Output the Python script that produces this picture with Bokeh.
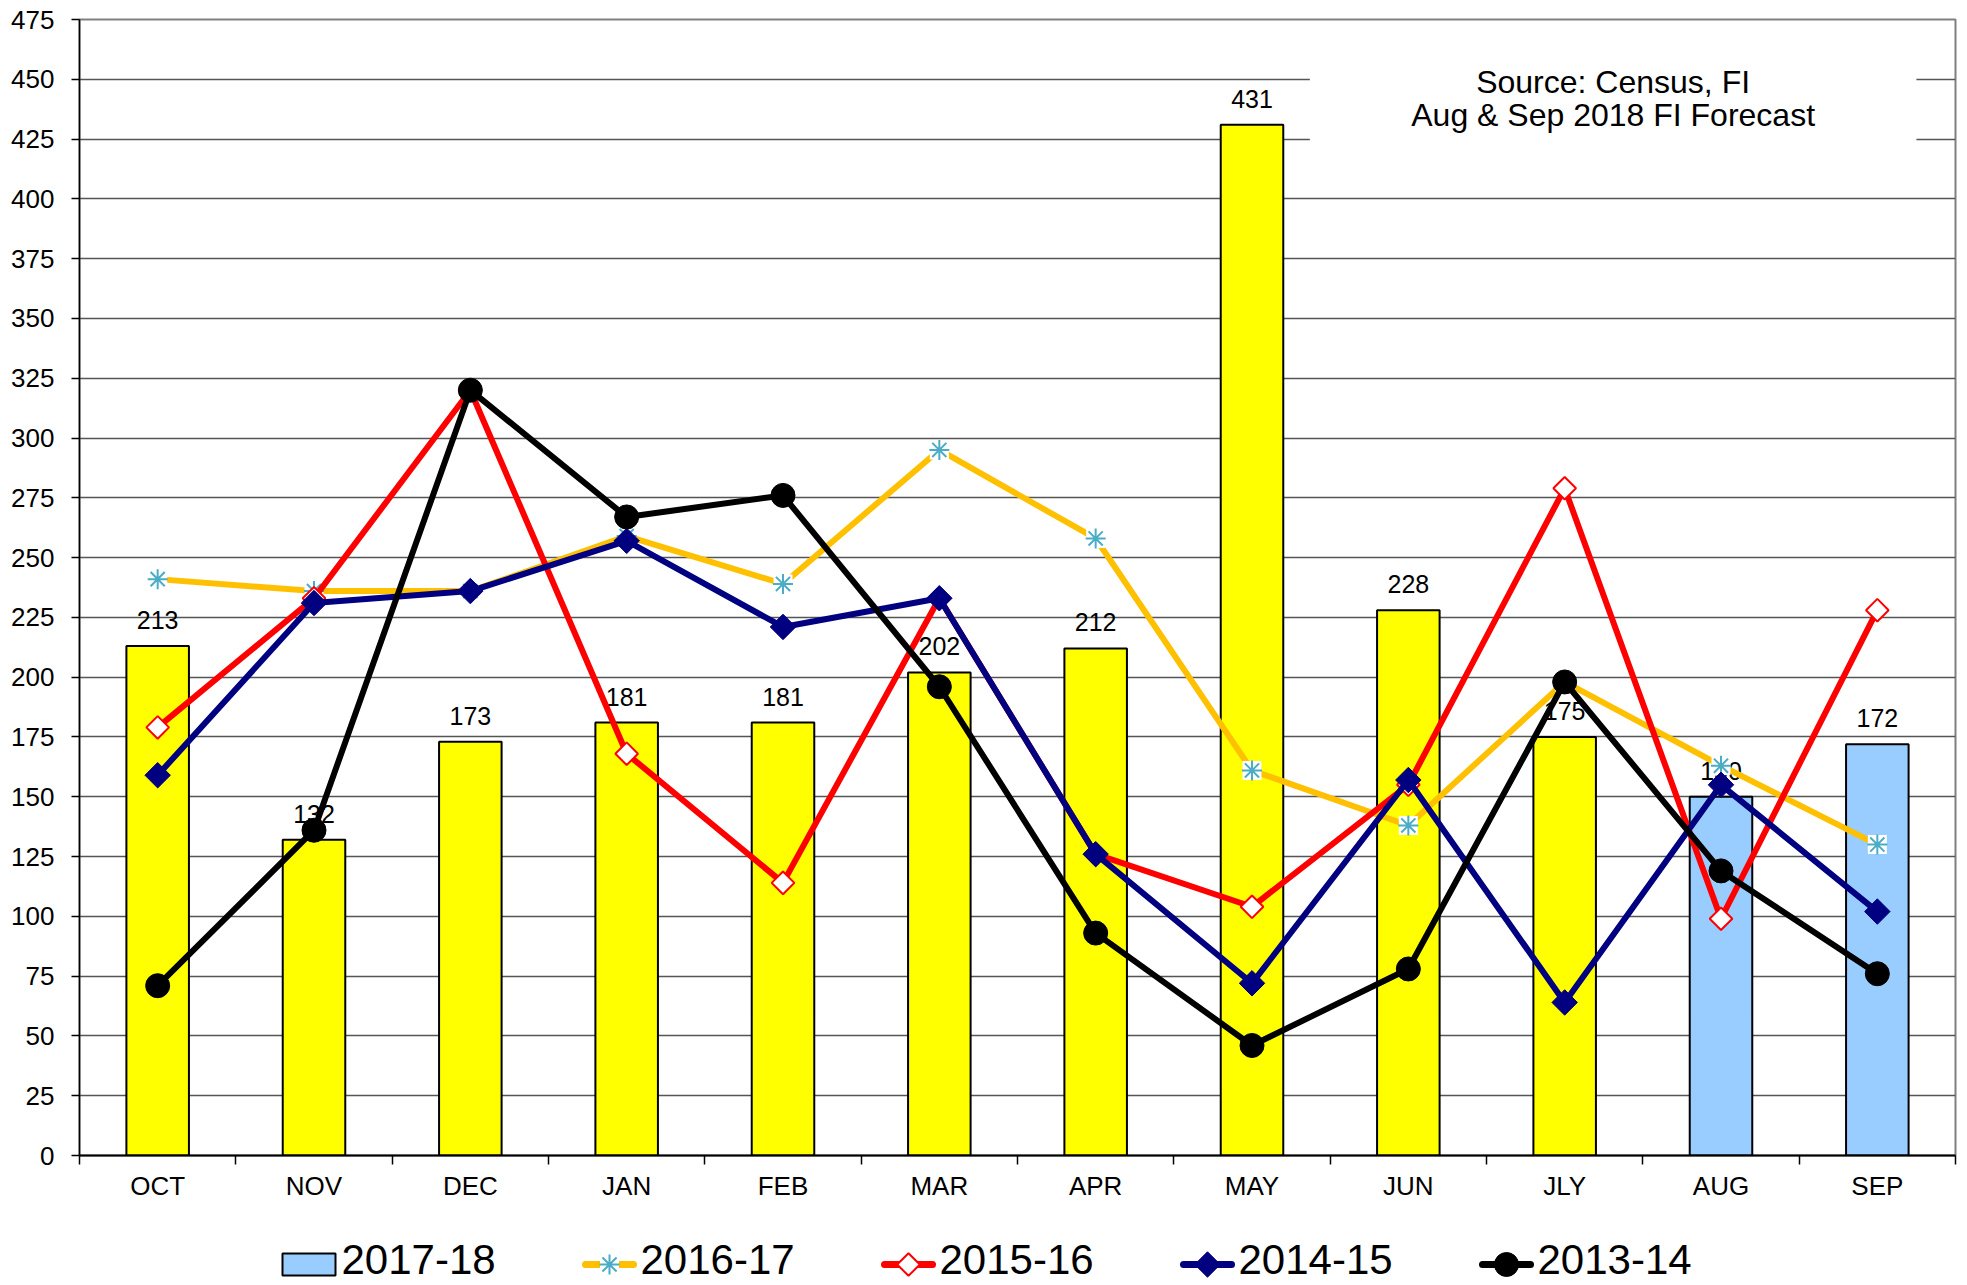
import numpy as np
from bokeh.plotting import figure
from bokeh.layouts import column
from bokeh.models import (FixedTicker, Range1d, BoxAnnotation, Label)
from bokeh.embed import file_html
from bokeh.resources import INLINE
from bokeh.core.properties import value

# ---------------- data ----------------
months = ["OCT", "NOV", "DEC", "JAN", "FEB", "MAR", "APR", "MAY", "JUN", "JLY", "AUG", "SEP"]
bars_2017_18 = [213, 132, 173, 181, 181, 202, 212, 431, 228, 175, 150, 172]
is_forecast = [False, False, False, False, False, False, False, False, False, False, True, True]
s2016_17 = [241, 236, 236, 259, 239, 295, 258, 161, 138, 198, 163, 130]
s2015_16 = [179, 233, 320, 168, 114, 233, 126, 104, 155, 279, 99, 228]
s2014_15 = [159, 231, 236, 257, 221, 233, 126, 72, 157, 64, 155, 102]
s2013_14 = [71, 136, 320, 267, 276, 196, 93, 46, 78, 198, 119, 76]
series_names = ["2017-18", "2016-17", "2015-16", "2014-15", "2013-14"]
y_ticks = list(range(0, 476, 25))
source_lines = ["Source: Census, FI", "Aug & Sep 2018 FI Forecast"]

FONT = "Liberation Sans"
n = len(months)
x = np.arange(n) + 0.5
bar_colors = ["#99CCFF" if f else "#FFFF00" for f in is_forecast]

# ---------------- styles ----------------
BAR = dict(line_color="black", line_width=2)
LINES = {
    "2016-17": dict(line_color="#FFC000", line_width=6, line_join="round"),
    "2015-16": dict(line_color="#FF0000", line_width=6, line_join="round"),
    "2014-15": dict(line_color="#000080", line_width=6, line_join="round"),
    "2013-14": dict(line_color="black", line_width=6, line_join="round"),
}
MARKERS = {
    "2016-17": [dict(marker="square", size=19, fill_color="white", line_color=None),
                dict(marker="asterisk", size=20, line_color="#4BACC6", line_width=2)],
    "2015-16": [dict(marker="square", angle=np.pi / 4, size=16, fill_color="white",
                     line_color="#FF0000", line_width=2)],
    "2014-15": [dict(marker="square", angle=np.pi / 4, size=18, fill_color="#000080",
                     line_color="#000080", line_width=1)],
    "2013-14": [dict(marker="circle", size=24, fill_color="black", line_color="black")],
}
line_data = {"2016-17": s2016_17, "2015-16": s2015_16, "2014-15": s2014_15, "2013-14": s2013_14}

LEFT, RIGHT, W = 79, 11, 1966
MAIN_H, STRIP_H = 1205, 79

# ---------------- main chart ----------------
p = figure(width=W, height=MAIN_H, output_backend="svg", toolbar_location=None,
           x_range=Range1d(0, n), y_range=Range1d(0, 475), title=None,
           min_border_left=LEFT, min_border_top=19, min_border_right=RIGHT, min_border_bottom=50)
p.background_fill_color = "white"
p.border_fill_color = "white"
p.outline_line_color = "#808080"
p.outline_line_width = 2

p.xaxis.ticker = FixedTicker(ticks=list(x), minor_ticks=list(range(0, n + 1)))
p.xaxis.major_label_overrides = {float(xi): m for xi, m in zip(x, months)}
p.xaxis.major_tick_out = 0
p.xaxis.major_tick_in = 0
p.xaxis.minor_tick_out = 9
p.xaxis.minor_tick_in = 0
p.xaxis.minor_tick_line_color = "black"
p.xaxis.minor_tick_line_width = 1.5
p.xaxis.axis_line_color = "black"
p.xaxis.axis_line_width = 2
p.xaxis.major_label_standoff = 6
p.xaxis.major_label_text_font = FONT
p.xaxis.major_label_text_font_size = "26px"
p.xaxis.major_label_text_color = "black"

p.yaxis.ticker = FixedTicker(ticks=y_ticks, minor_ticks=[])
p.yaxis.major_tick_out = 8
p.yaxis.major_tick_in = 0
p.yaxis.major_tick_line_color = "black"
p.yaxis.major_tick_line_width = 1.5
p.yaxis.axis_line_color = "black"
p.yaxis.axis_line_width = 1.5
p.yaxis.major_label_standoff = 17
p.yaxis.major_label_text_font = FONT
p.yaxis.major_label_text_font_size = "26px"
p.yaxis.major_label_text_color = "black"

p.xgrid.grid_line_color = None
p.ygrid.ticker = FixedTicker(ticks=y_ticks)
p.ygrid.grid_line_color = "#555555"
p.ygrid.grid_line_width = 1.3

p.vbar(x=x, top=bars_2017_18, width=0.4, fill_color=bar_colors, **BAR)
p.text(x=x, y=bars_2017_18, text=[str(v) for v in bars_2017_18],
       text_align="center", text_baseline="bottom", y_offset=-17,
       text_font=value(FONT), text_font_size="25px", text_color="black")

for name in series_names[1:]:
    p.line(x, line_data[name], **LINES[name])
    for mk in MARKERS[name]:
        p.scatter(x, line_data[name], **mk)

p.add_layout(BoxAnnotation(left=7.87, right=11.75, bottom=418, top=463,
                           fill_color="white", fill_alpha=1.0, line_color=None))
p.add_layout(Label(x=9.81, y=449, text=source_lines[0], text_align="center",
                   text_baseline="middle", text_font=FONT, text_font_size="32px",
                   text_color="black"))
p.add_layout(Label(x=9.81, y=435, text=source_lines[1], text_align="center",
                   text_baseline="middle", text_font=FONT, text_font_size="32px",
                   text_color="black"))

# ---------------- legend strip (pixel coordinates) ----------------
lg = figure(width=W, height=STRIP_H, output_backend="svg", toolbar_location=None,
            x_range=Range1d(LEFT, W - RIGHT), y_range=Range1d(0, STRIP_H), title=None,
            x_axis_type=None, y_axis_type=None,
            min_border_left=LEFT, min_border_right=RIGHT, min_border_top=0, min_border_bottom=0)
lg.outline_line_color = None
lg.grid.grid_line_color = None
lg.background_fill_color = "white"
lg.border_fill_color = "white"

LEG_X0, LEG_STEP, GLYPH_W = 282, 299, 56
LEG_GLYPH_Y, LEG_TEXT_Y = 20, 25
for i, name in enumerate(series_names):
    gx0 = LEG_X0 + i * LEG_STEP
    gc = gx0 + GLYPH_W / 2
    if i == 0:
        lg.rect(x=[gc - 1.5], y=[LEG_GLYPH_Y], width=53, height=22, fill_color="#99CCFF", **BAR)
    else:
        st = dict(LINES[name])
        st["line_width"] = 7
        st["line_cap"] = "round"
        lg.segment(x0=[gx0 + 4], y0=[LEG_GLYPH_Y], x1=[gx0 + GLYPH_W - 4], y1=[LEG_GLYPH_Y], **st)
        for mk in MARKERS[name]:
            lg.scatter([gc], [LEG_GLYPH_Y], **mk)
    lg.text(x=[gx0 + GLYPH_W + 3], y=[LEG_TEXT_Y], text=[name], text_align="left",
            text_baseline="middle", text_font=value(FONT), text_font_size="42px",
            text_color="black")

open("out.html", "w").write(file_html(column(p, lg, spacing=0), INLINE))
